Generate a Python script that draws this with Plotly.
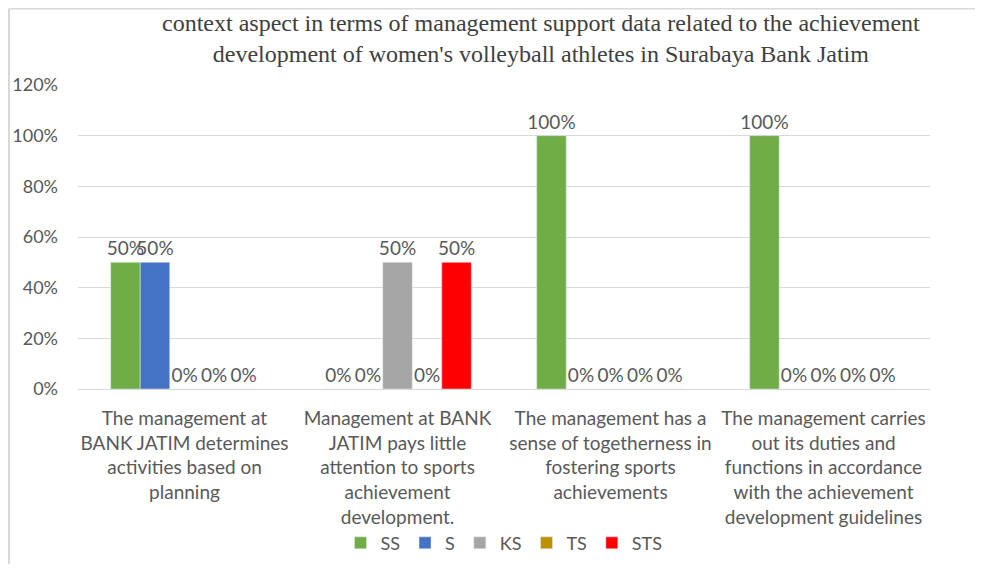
import plotly.graph_objects as go

categories = [
    "The management at<br>BANK JATIM determines<br>activities based on<br>planning",
    "Management at BANK<br>JATIM pays little<br>attention to sports<br>achievement<br>development.",
    "The management has a<br>sense of togetherness in<br>fostering sports<br>achievements",
    "The management carries<br>out its duties and<br>functions in accordance<br>with the achievement<br>development guidelines",
]
series_names = ["SS", "S", "KS", "TS", "STS"]
ss = [0.5, 0, 1, 1]
s = [0.5, 0, 0, 0]
ks = [0, 0.5, 0, 0]
ts = [0, 0, 0, 0]
sts = [0, 0.5, 0, 0]
colors = ["#70AD47", "#4472C4", "#A5A5A5", "#BF9000", "#FF0000"]

title_text = ("context aspect in terms of management support data related to the achievement<br>"
              "development of women's volleyball athletes in Surabaya Bank Jatim")

FONT = "Lato"
GREY = "#595959"

fig = go.Figure()
for name, vals, col in zip(series_names, [ss, s, ks, ts, sts], colors):
    fig.add_trace(go.Bar(
        x=categories, y=vals, name=name, marker_color=col,
        text=[f"{v:.0%}" for v in vals], textposition="outside",
        textfont=dict(family=FONT, size=19, color=GREY),
        constraintext="none", cliponaxis=False,
    ))

# page body adds an 8px margin, so the figure is 16px smaller than the window
fig.update_layout(
    width=967, height=556,
    margin=dict(l=70, r=45, t=77, b=175, autoexpand=False),
    paper_bgcolor="white", plot_bgcolor="white",
    barmode="group", bargap=0.307, bargroupgap=0,
    font=dict(family=FONT, size=19, color=GREY),
    xaxis=dict(showgrid=False, showline=True, linecolor="#D9D9D9", linewidth=1,
               automargin=False, ticks="", ticklabelstandoff=12,
               tickfont=dict(size=19, color=GREY)),
    yaxis=dict(range=[0, 1.2], dtick=0.2, tickformat=".0%", showgrid=True,
               gridcolor="#D9D9D9", gridwidth=1, zeroline=False, showline=False,
               automargin=False, ticks="", ticklabelstandoff=19,
               tickfont=dict(size=18, color=GREY)),
    legend=dict(orientation="h", x=0.5, xanchor="center", y=-0.507, yanchor="middle",
                bgcolor="rgba(0,0,0,0)", font=dict(size=18, color=GREY), itemwidth=30),
    showlegend=True,
)

fig.add_annotation(text=title_text, xref="paper", yref="paper", x=0.5434, y=1.1546,
                   xanchor="center", yanchor="middle", showarrow=False,
                   font=dict(family="Liberation Serif", size=24, color="#404040"))

# chart frame (left and top edges)
fig.add_shape(type="line", xref="paper", yref="paper", x0=-0.081, x1=1.1, y0=1.2516, y1=1.2516,
              line=dict(color="#D9D9D9", width=2))
fig.add_shape(type="line", xref="paper", yref="paper", x0=-0.081, x1=-0.081, y0=1.2516, y1=-0.7,
              line=dict(color="#D9D9D9", width=2))

fig.write_html("out.html")
